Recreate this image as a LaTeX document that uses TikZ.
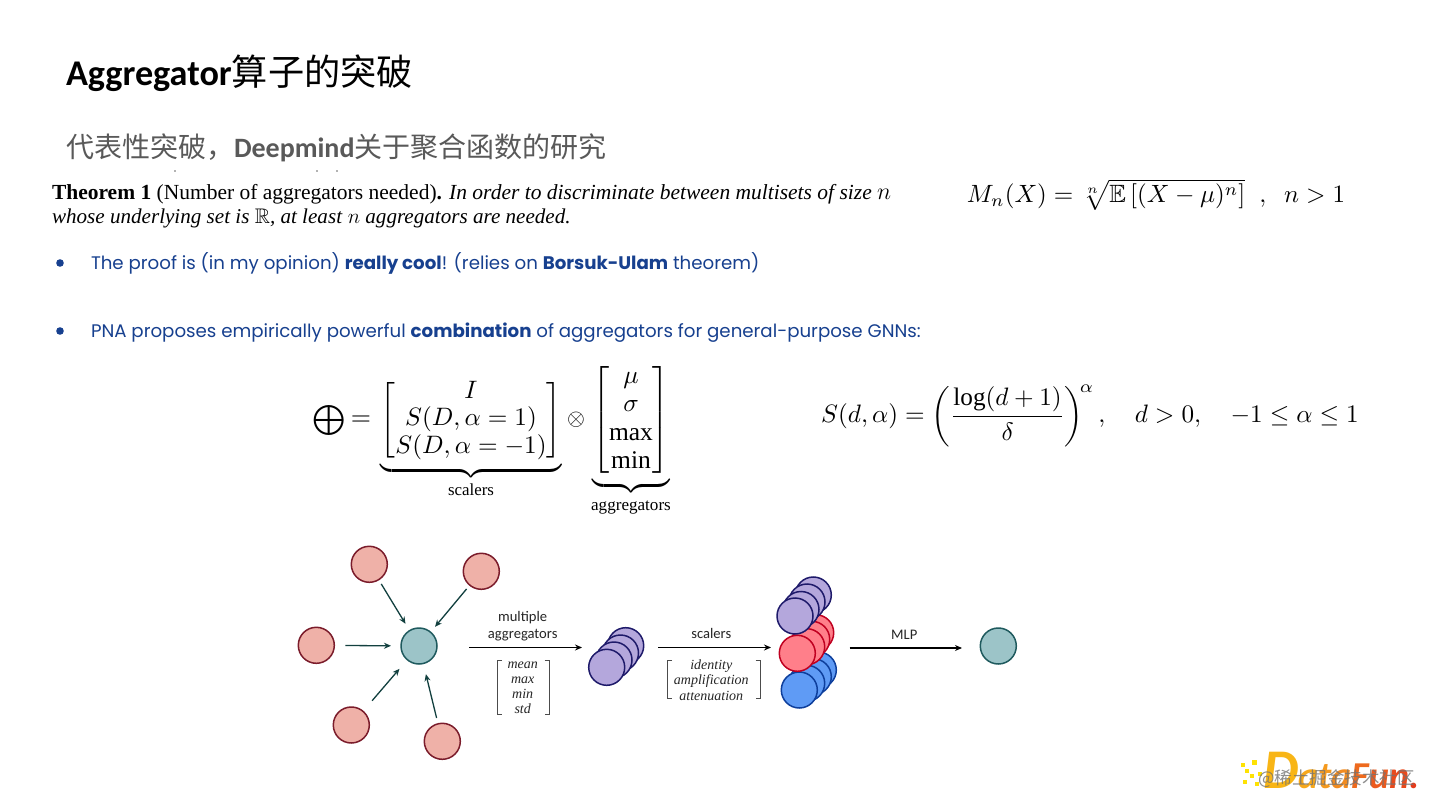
\documentclass[tikz,border=0pt]{standalone}
\usepackage{fix-cm}
\usepackage{amsmath,amssymb}
\usepackage{graphicx}
\usepackage{fontspec}
\setmainfont{Liberation Serif}
\newfontfamily\cjk{Noto Sans CJK SC}
\newfontfamily\carl{Carlito}
\newfontfamily\pop{Poppins}
\definecolor{pinkf}{HTML}{EFB1A8}
\definecolor{pinkd}{HTML}{7B1C2B}
\definecolor{tealf}{HTML}{9CC4C8}
\definecolor{teald}{HTML}{1F5A5E}
\definecolor{purf}{HTML}{B4A7DC}
\definecolor{purd}{HTML}{1E1A6A}
\definecolor{redf}{HTML}{FF7F8A}
\definecolor{redd}{HTML}{C00020}
\definecolor{bluf}{HTML}{5F9BF5}
\definecolor{blud}{HTML}{0E3F9C}
\definecolor{bulb}{HTML}{17408F}
\definecolor{sub}{HTML}{595959}
\definecolor{arr}{HTML}{12403F}
\usetikzlibrary{arrows.meta}
\tikzset{
  every node/.style={inner sep=0pt,outer sep=0pt},
  dot/.style={circle,draw,line width=1.5pt,minimum size=36pt},
  pink/.style={dot,fill=pinkf,draw=pinkd},
  teal2/.style={dot,fill=tealf,draw=teald},
  pur/.style={dot,fill=purf,draw=purd},
  red2/.style={dot,fill=redf,draw=redd},
  blu/.style={dot,fill=bluf,draw=blud},
  edge2/.style={-{Stealth[length=7pt,width=6pt]},line width=1.3pt,draw=arr},
  flow/.style={-{Stealth[length=7pt,width=6pt]},line width=1.3pt,draw=black},
  lab/.style={font=\carl\fontsize{14.6}{16}\selectfont,text=black!85,anchor=base},
  mat/.style={font=\rmfamily\itshape\fontsize{14}{16}\selectfont,text=black!85,anchor=base},
  brk/.style={line width=1pt,draw=black!70},
  body/.style={anchor=base west,text=bulb,font=\pop\fontsize{18.2}{22}\selectfont},
  thm/.style={anchor=base west,text=black,font=\rmfamily\fontsize{21.5}{24}\selectfont}
}
\begin{document}
\begin{tikzpicture}[x=1pt,y=-1pt]
\useasboundingbox (0,0) rectangle (1440,810);
\fill[white] (0,0) rectangle (1440,810);
% titles
\node[anchor=base west,font=\fontsize{36.2}{40}\selectfont] (title) at (66,85.5) {{\carl\bfseries Aggregator}{\cjk 算子的突破}};
\node[anchor=base west,text=sub,font=\fontsize{28}{32}\selectfont] (subt) at (66,158) {{\cjk 代表性突破，}{\carl\bfseries Deepmind}{\cjk 关于聚合函数的研究}};
\fill[black!60] (175,171) circle (0.8pt) (317,171) circle (0.8pt) (337,171) circle (0.8pt);
% theorem
\node[thm] (t1) at (52,200) {\textbf{Theorem 1} (Number of aggregators needed)\textbf{.} \textit{In order to discriminate between multisets of size} {\fontsize{24}{24}\selectfont$n$}};
\node[thm,font=\rmfamily\fontsize{21.1}{24}\selectfont] (t2) at (52,224) {\textit{whose underlying set is} $\mathbb{R}$\textit{, at least} $n$ \textit{aggregators are needed.}};
\node (mn) at (1156,195) {\scalebox{2.5}{$M_n(X)=\sqrt[n]{\mathbb{E}\left[(X-\mu)^n\right]}\;\;,\;\;n>1$}};
% bullets
\fill[bulb] (60,263) circle (3.8pt);
\fill[bulb] (60,331) circle (3.8pt);
\node[body] (b1) at (91,269.5) {The proof is (in my opinion) \textbf{really cool}! (relies on \textbf{Borsuk-Ulam} theorem)};
\node[body] (b2) at (91,337.5) {PNA proposes empirically powerful \textbf{combination} of aggregators for general-purpose GNNs:};
% equation
\node (opl) at (329,420) {\scalebox{3}{$\bigoplus$}};
\node (eqs) at (361,421) {\scalebox{2.6}{$=$}};
\renewcommand{\arraystretch}{0.91}
\node[anchor=north] (m1) at (471,379) {\scalebox{2.52}{$\underbrace{\begin{bmatrix}I\\ S(D,\alpha=1)\\ S(D,\alpha=-1)\end{bmatrix}}_{\displaystyle\text{\scalebox{0.67}{scalers}}}$}};
\node (otm) at (576,420) {\scalebox{2.3}{$\otimes$}};
\renewcommand{\arraystretch}{0.92}
\node[anchor=north] (m2) at (631,364) {\scalebox{2.55}{$\underbrace{\begin{bmatrix}\mu\\ \sigma\\ \max\\ \min\end{bmatrix}}_{\displaystyle\text{\scalebox{0.67}{aggregators}}}$}};
\node (sd) at (1090,416) {\scalebox{2.52}{$S(d,\alpha)=\left(\dfrac{\log(d+1)}{\delta}\right)^{\!\alpha},\quad d>0,\quad -1\le\alpha\le1$}};
% graph
\node[pink] (n1) at (369.3,564.3) {};
\node[pink] (n2) at (481.3,571.3) {};
\node[pink] (n3) at (316.3,645.3) {};
\node[pink] (n4) at (351.3,725) {};
\node[pink] (n5) at (442.3,741.3) {};
\node[teal2] (c) at (419,646) {};
\draw[edge2,shorten <=5pt,shorten >=8pt] (n1) -- (c);
\draw[edge2,shorten <=5pt,shorten >=7pt] (n2) -- (c);
\draw[edge2,shorten <=11pt,shorten >=10pt] (n3) -- (c);
\draw[edge2,shorten <=14pt,shorten >=12pt] (n4) -- (c);
\draw[edge2,shorten <=6pt,shorten >=11pt] (n5) -- (c);
% aggregators
\coordinate (a1) at (469,647.5);
\coordinate (a2) at (582,647.5);
\draw[flow] (a1) -- (a2);
\node[lab] (l1) at (522.7,621) {multiple};
\node[lab] (l2) at (522.7,638.5) {aggregators};
\node[mat] (x1) at (522.7,668) {mean};
\node[mat] (x2) at (522.7,683) {max};
\node[mat] (x3) at (522.7,698.5) {min};
\node[mat] (x4) at (522.7,713) {std};
\draw[brk] (502,660.5) -- (497.5,660.5) -- (497.5,714.5) -- (502,714.5);
\draw[brk] (544.5,660.5) -- (549,660.5) -- (549,714.5) -- (544.5,714.5);
\node[pur] (p4) at (625.7,645.7) {};
\node[pur] (p3) at (620.5,653) {};
\node[pur] (p2) at (614,660) {};
\node[pur] (p1) at (606.7,667.3) {};
% scalers
\coordinate (s1) at (658,647.5);
\coordinate (s2) at (771,647.5);
\draw[flow] (s1) -- (s2);
\node[lab] (l3) at (711.3,638.5) {scalers};
\node[mat] (y1) at (711.3,669) {identity};
\node[mat] (y2) at (711.3,684.5) {amplification};
\node[mat] (y3) at (711.3,700) {attenuation};
\draw[brk] (672,660.5) -- (667.5,660.5) -- (667.5,698.5) -- (672,698.5);
\draw[brk] (755.5,660.5) -- (760,660.5) -- (760,698.5) -- (755.5,698.5);
\node[blu] (bl4) at (818.3,670) {};
\node[blu] (bl3) at (813.3,676.7) {};
\node[blu] (bl2) at (806.7,683.3) {};
\node[blu] (bl1) at (799.3,690) {};
\node[red2] (r4) at (815.7,632.7) {};
\node[red2] (r3) at (811.7,639.3) {};
\node[red2] (r2) at (806.7,646.7) {};
\node[red2] (r1) at (797.3,653.3) {};
\node[pur] (q4) at (813.3,595) {};
\node[pur] (q3) at (807,602) {};
\node[pur] (q2) at (801,609.5) {};
\node[pur] (q1) at (795,616) {};
% mlp
\coordinate (m3) at (849.5,648);
\coordinate (m4) at (962,648);
\draw[flow] (m3) -- (m4);
\node[teal2] (out) at (998.3,646) {};
\node[lab] (l4) at (904.3,639) {MLP};
% logo
\foreach \x/\y/\s in {1241/763/3.5,1252/760/5,1245/769/4,1250/774/4,1258/772/4,1243/780/4,1255/782/4}{
  \fill[yellow!85!orange] (\x,\y) rectangle ++(\s,\s);
}
\node[anchor=base west,font=\carl\bfseries\itshape\fontsize{38}{40}\selectfont] (logo) at (1263,788) {{\fontsize{56}{56}\selectfont\textcolor[HTML]{F8B516}{D}}\textcolor[HTML]{F7A81B}{a}\textcolor[HTML]{F59A1E}{t}\textcolor[HTML]{F28C20}{a}\textcolor[HTML]{EE6A1E}{F}\textcolor[HTML]{EC5A1E}{u}\textcolor[HTML]{E94A1C}{n}\textcolor[HTML]{E63A1A}{.}};
\node[anchor=base west,text=black!55,opacity=0.8,font=\cjk\fontsize{17.5}{20}\selectfont] (wm) at (1258,784) {@稀土掘金技术社区};
\end{tikzpicture}
\end{document}
